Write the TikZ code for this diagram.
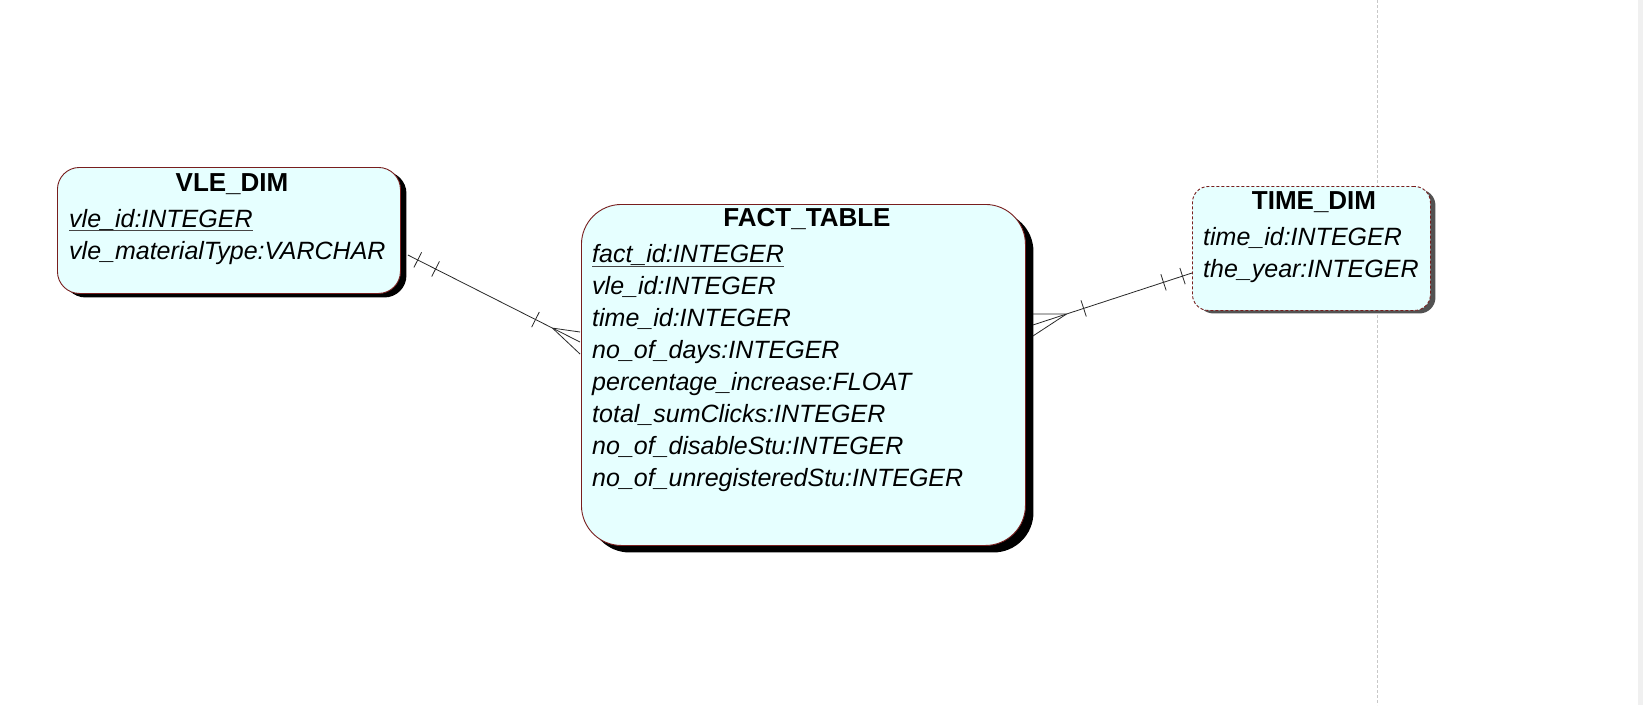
\documentclass[tikz,border=0pt]{standalone}
\usepackage{fontspec}
\setmainfont{Liberation Sans}
\usetikzlibrary{calc,shadows,decorations.markings}
\definecolor{boxfill}{RGB}{230,255,255}
\definecolor{boxedge}{RGB}{120,30,30}
\definecolor{conncol}{RGB}{40,40,40}
\definecolor{guidecol}{RGB}{200,200,200}
\definecolor{stripcol}{RGB}{240,240,240}
\definecolor{ulcol}{RGB}{70,70,70}
\newcommand\keyline[1]{\setbox0\hbox{#1}\rlap{\color{ulcol}\rule[-4.2pt]{\wd0}{1.1pt}}\box0}
\tikzset{
  entity/.style={draw=boxedge, fill=boxfill, line width=0.9pt, inner sep=0pt, anchor=north west},
  enttitle/.style={font=\fontsize{26}{30}\selectfont\bfseries, anchor=base, inner sep=0pt},
  attrtext/.style={font=\fontsize{25}{30}\selectfont\itshape, anchor=base west, inner sep=0pt},
  connline/.style={draw=conncol, line width=0.8pt},
  tickat/.style={postaction={decorate, decoration={markings, mark=at position #1 with {\draw[connline] (0pt,-8.5pt) -- (0pt,8.5pt);}}}}
}
\begin{document}
\begin{tikzpicture}[x=1pt,y=-1pt]
\useasboundingbox (0,0) rectangle (1643,705);
\fill[white] (0,0) rectangle (1643,705);
\fill[stripcol] (1638,0) rectangle (1643,705);
\draw[guidecol, line width=1pt, dash pattern=on 3pt off 2pt] (1377,0) -- (1377,705);

% VLE_DIM
\node[entity, minimum width=343pt, minimum height=126pt, rounded corners=22pt,
      drop shadow={shadow xshift=6pt, shadow yshift=-4pt, fill=black, opacity=1}] (vle) at (57,167) {};
\node[enttitle] (vleT) at (232,191) {VLE\_DIM};
\node[attrtext] (vle1) at (69,227) {\keyline{vle\_id:INTEGER}};
\node[attrtext] (vle2) at (69,259) {vle\_materialType:VARCHAR};

% FACT_TABLE
\node[entity, minimum width=444pt, minimum height=341pt, rounded corners=40pt,
      drop shadow={shadow xshift=8pt, shadow yshift=-7pt, fill=black, opacity=1}] (fact) at (581,204) {};
\node[enttitle] (factT) at (807,226.5) {FACT\_TABLE};
\node[attrtext] (f1) at (592,262.7) {\keyline{fact\_id:INTEGER}};
\node[attrtext] (f2) at (592,294.7) {vle\_id:INTEGER};
\node[attrtext] (f3) at (592,326.7) {time\_id:INTEGER};
\node[attrtext] (f4) at (592,358.7) {no\_of\_days:INTEGER};
\node[attrtext] (f5) at (592,390.7) {percentage\_increase:FLOAT};
\node[attrtext] (f6) at (592,422.7) {total\_sumClicks:INTEGER};
\node[attrtext] (f7) at (592,454.7) {no\_of\_disableStu:INTEGER};
\node[attrtext] (f8) at (592,486.7) {no\_of\_unregisteredStu:INTEGER};

% TIME_DIM
\node[entity, dash pattern=on 3pt off 2pt, minimum width=238pt, minimum height=124pt, rounded corners=16pt,
      drop shadow={shadow xshift=5pt, shadow yshift=-3pt, fill=black!68, opacity=1}] (time) at (1192,186) {};
\node[enttitle] (timeT) at (1314,209) {TIME\_DIM};
\node[attrtext] (t1) at (1203,245) {time\_id:INTEGER};
\node[attrtext] (t2) at (1203,277) {the\_year:INTEGER};

% connector VLE -- FACT
\coordinate (L1) at ($(vle.north east)+(7,88)$);
\coordinate (L2) at ($(fact.north west)+(-1,138)$);
\draw[connline, tickat=11pt, tickat=31pt, tickat=143pt] (L1) -- (L2);
\coordinate (Lv) at ($(L1)!162pt!(L2)$);
\draw[connline] (Lv) -- ($(L2)+(0,-10)$) (Lv) -- ($(L2)+(0,12)$);

% connector TIME -- FACT
\coordinate (R1) at ($(time.north west)+(0,87)$);
\coordinate (R2) at ($(fact.north east)+(7,121)$);
\draw[connline, tickat=10pt, tickat=30pt, tickat=114pt] (R1) -- (R2);
\coordinate (Rv) at ($(R1)!132pt!(R2)$);
\draw[connline] (Rv) -- ($(R2)+(0,-11)$) (Rv) -- ($(R2)+(0,11)$);
\end{tikzpicture}
\end{document}
